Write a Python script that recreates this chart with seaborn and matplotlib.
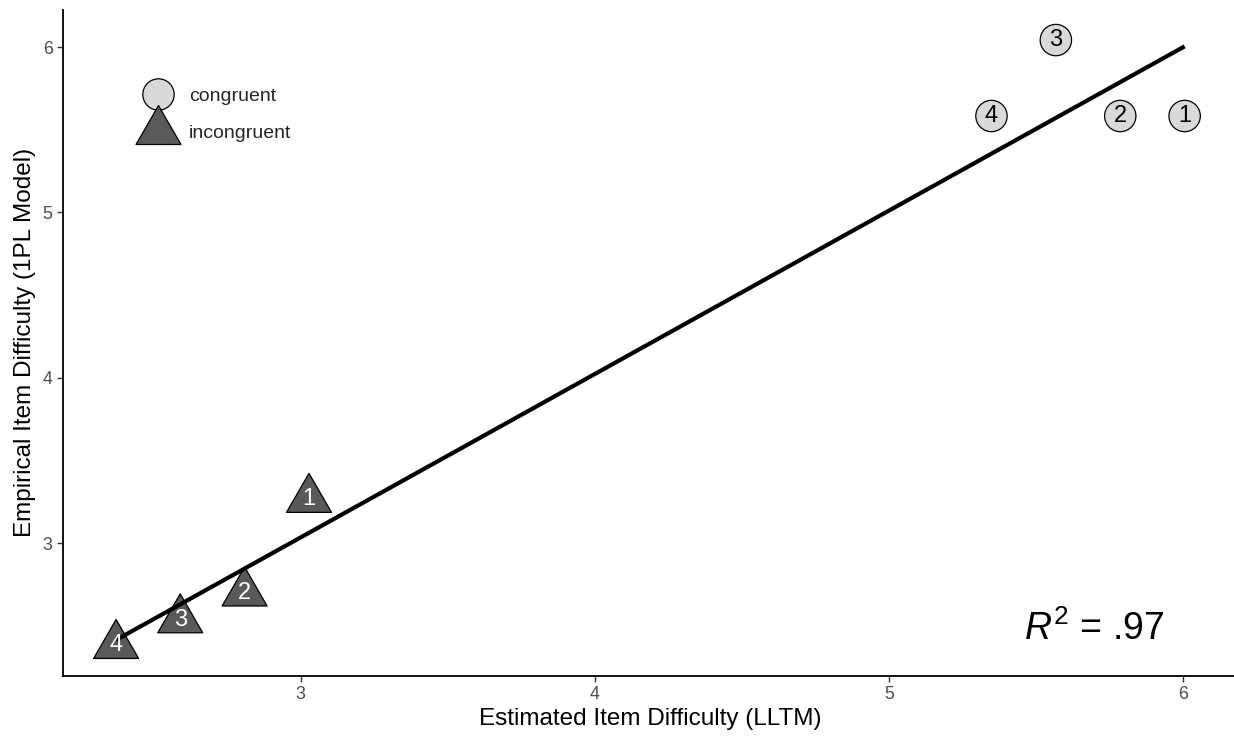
import numpy as np
import pandas as pd
import matplotlib
matplotlib.use("Agg")
import matplotlib.pyplot as plt
from matplotlib.path import Path
from matplotlib.lines import Line2D
import seaborn as sns

# ---- data ----
conditions = ["congruent"] * 4 + ["incongruent"] * 4
item_labels = ["1", "2", "3", "4", "1", "2", "3", "4"]
estimated = [6.006, 5.787, 5.568, 5.349, 3.028, 2.809, 2.590, 2.372]
empirical = [5.583, 5.583, 6.042, 5.583, 3.266, 2.700, 2.538, 2.383]
x_ticks = [3, 4, 5, 6]
y_ticks = [3, 4, 5, 6]
r2_text = r"$R^2$ = .97"
x_title = "Estimated Item Difficulty (LLTM)"
y_title = "Empirical Item Difficulty (1PL Model)"

df = pd.DataFrame({"x": estimated, "y": empirical, "cond": conditions, "lab": item_labels})

sns.set_theme(style="ticks")
plt.rcParams["font.family"] = ["Liberation Sans", "DejaVu Sans"]
plt.rcParams["mathtext.fontset"] = "custom"
plt.rcParams["mathtext.it"] = "Liberation Sans:italic"
plt.rcParams["mathtext.rm"] = "Liberation Sans"

fill = {"congruent": "#D9D9D9", "incongruent": "#595959"}
text_col = {"congruent": "black", "incongruent": "white"}

# equilateral triangle centred on its centroid
h = np.sqrt(3) / 2
tri = Path([(0, 2 * h / 3), (-0.5, -h / 3), (0.5, -h / 3), (0, 2 * h / 3)], closed=True)
markers = {"congruent": "o", "incongruent": tri}
sizes = {"congruent": 510, "incongruent": 1400}

fig = plt.figure(figsize=(12.34, 7.36), dpi=100)
ax = fig.add_axes([0.0508, 0.0819, 0.9525, 0.9048])

sns.scatterplot(data=df, x="x", y="y", hue="cond", style="cond", size="cond",
                palette=fill, markers=markers, sizes=sizes,
                edgecolor="black", linewidth=0.9, legend=False, ax=ax, zorder=2)

sns.regplot(data=df, x="x", y="y", scatter=False, ci=None, truncate=True, ax=ax,
            line_kws={"color": "black", "lw": 3.0, "zorder": 3, "solid_capstyle": "butt"})

for _, r in df.iterrows():
    ax.text(r["x"], r["y"], r["lab"], ha="center", va="center", fontsize=17,
            color=text_col[r["cond"]], zorder=4)

# limits with 5% expansion (ggplot-like)
xr = max(estimated) - min(estimated)
yr = max(empirical) - min(empirical)
ax.set_xlim(min(estimated) - 0.05 * xr, max(estimated) + 0.05 * xr)
ax.set_ylim(min(empirical) - 0.05 * yr, max(empirical) + 0.05 * yr)
ax.set_xticks(x_ticks)
ax.set_yticks(y_ticks)
ax.set_xticklabels([str(t) for t in x_ticks])
ax.set_yticklabels([str(t) for t in y_ticks])
ax.tick_params(axis="both", colors="#4D4D4D", labelsize=12.8, length=4.3, width=1.0, pad=3)
ax.tick_params(axis="both", color="#333333")
for s in ["top", "right"]:
    ax.spines[s].set_visible(False)
for s in ["left", "bottom"]:
    ax.spines[s].set_linewidth(1.3)
    ax.spines[s].set_color("black")

ax.set_xlabel(x_title, fontsize=17.5, color="black", labelpad=4)
ax.set_ylabel(y_title, fontsize=17.5, color="black", labelpad=5)

ax.text(5.699, 2.413, r2_text, ha="center", va="baseline", fontsize=27, color="black")

handles = [
    Line2D([], [], linestyle="none", marker="o", markersize=np.sqrt(sizes["congruent"]),
           markerfacecolor=fill["congruent"], markeredgecolor="black", markeredgewidth=0.9),
    Line2D([], [], linestyle="none", marker=tri, markersize=np.sqrt(sizes["incongruent"]),
           markerfacecolor=fill["incongruent"], markeredgecolor="black", markeredgewidth=0.9),
]
leg = ax.legend(handles, ["congruent", "incongruent"], loc="center left",
                bbox_to_anchor=(138.3 / 1234, 1 - 114.7 / 736), bbox_transform=fig.transFigure,
                frameon=False, fontsize=14, borderpad=0, borderaxespad=0,
                handlelength=2.0, handletextpad=0.6, labelspacing=1.0)

fig.savefig("out.png", dpi=100)
